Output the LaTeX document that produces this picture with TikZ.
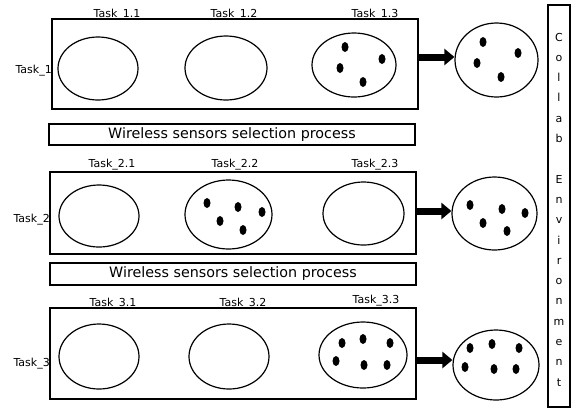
\documentclass[tikz,border=0pt]{standalone}
\usepackage{fontspec}
\setmainfont{DejaVu Sans}
\usetikzlibrary{shapes.geometric,arrows.meta}
\tikzset{
  taskbox/.style={draw,line width=1.6pt,rectangle,inner sep=0pt},
  selbox/.style={draw,line width=1.5pt,rectangle,inner sep=0pt,font=\fontsize{14.3}{16}\selectfont},
  oval/.style={draw,line width=1.2pt,ellipse,inner sep=0pt},
  lbl/.style={anchor=base,inner sep=0pt,font=\fontsize{11}{13}\selectfont},
  rowlbl/.style={anchor=base east,inner sep=0pt,font=\fontsize{11}{13}\selectfont},
  collabbox/.style={draw,line width=1.3pt,rectangle,inner sep=0pt},
  letter/.style={anchor=base,inner sep=0pt,font=\fontsize{11}{13}\selectfont},
  bigarrow/.style={line width=7pt,-{Triangle[length=10pt,width=16pt]}},
  dot/.style={fill=black}
}
\begin{document}
\begin{tikzpicture}[x=1pt,y=-1pt]
\useasboundingbox (0,0) rectangle (577,408);
% ---------- row 1 ----------
\node[taskbox,minimum width=366pt,minimum height=90pt] (box1) at (235,64) {};
\node[oval,minimum width=80pt,minimum height=63pt] (e11) at (98,68.5) {};
\node[oval,minimum width=82pt,minimum height=64pt] (e12) at (226,68) {};
\node[oval,minimum width=84pt,minimum height=64pt] (e13) at (354,65) {};
\node[oval,minimum width=83pt,minimum height=74pt] (out1) at (496.5,60) {};
\node[lbl] (t11) at (117,17.5) {Task\_1.1};
\node[lbl] (t12) at (234,17.5) {Task\_1.2};
\node[lbl] (t13) at (375,17.5) {Task\_1.3};
\node[rowlbl] (t1) at (52,73.5) {Task\_1};
\foreach \p in {(345,47),(382,59),(340,68),(363,82),(483,42),(518,53),(477,63),(501,77)}
  \fill[dot] \p ellipse (3.5 and 5);
\coordinate (a1) at (0,57);
\draw[bigarrow] (box1.east |- a1) -- (out1.west |- a1);
\node[selbox,minimum width=366pt,minimum height=21pt] (sel1) at (232,134.5) {Wireless sensors selection process};
% ---------- row 2 ----------
\node[taskbox,minimum width=366pt,minimum height=82pt] (box2) at (233,213) {};
\node[oval,minimum width=80pt,minimum height=62pt] (e21) at (99,216) {};
\node[oval,minimum width=87pt,minimum height=69pt] (e22) at (228.5,214.5) {};
\node[oval,minimum width=81pt,minimum height=63pt] (e23) at (363.5,213.5) {};
\node[oval,minimum width=85pt,minimum height=73pt] (out2) at (494.5,213.5) {};
\node[lbl] (t21) at (112,167) {Task\_2.1};
\node[lbl] (t22) at (235,167) {Task\_2.2};
\node[lbl] (t23) at (375,167) {Task\_2.3};
\node[rowlbl] (t2) at (50,222) {Task\_2};
\foreach \p in {(207,203),(238,207),(262,212),(220,221),(243,230),(470,205),(502,209),(525,213),(483,223),(507,231)}
  \fill[dot] \p ellipse (3.5 and 5);
\coordinate (a2) at (0,211);
\draw[bigarrow] (box2.east |- a2) -- (out2.west |- a2);
\node[selbox,minimum width=366pt,minimum height=22pt] (sel2) at (233,274) {Wireless sensors selection process};
% ---------- row 3 ----------
\node[taskbox,minimum width=366pt,minimum height=91pt] (box3) at (233,353.5) {};
\node[oval,minimum width=80pt,minimum height=65pt] (e31) at (99,356.5) {};
\node[oval,minimum width=80pt,minimum height=65pt] (e32) at (229,356.5) {};
\node[oval,minimum width=88pt,minimum height=66pt] (e33) at (363,355) {};
\node[oval,minimum width=86pt,minimum height=70pt] (out3) at (496,365) {};
\node[lbl] (t31) at (113,306) {Task\_3.1};
\node[lbl] (t32) at (243,306) {Task\_3.2};
\node[lbl] (t33) at (376,303) {Task\_3.3};
\node[rowlbl] (t3) at (50,366) {Task\_3};
\foreach \p in {(342,343),(363,339),(390,343),(336,361),(364,365),(387,365),(470,348),(492,344),(519,348),(465,367),(494,369),(516,369)}
  \fill[dot] \p ellipse (3.5 and 5);
\coordinate (a3) at (0,360);
\draw[bigarrow] (box3.east |- a3) -- (out3.west |- a3);
% ---------- collab environment ----------
\node[collabbox,minimum width=22pt,minimum height=402pt] (collab) at (559,206) {};
\foreach \ch [count=\k from 0] in {C,o,l,l,a,b,{},E,n,v,i,r,o,n,m,e,n,t}
  \node[letter] (c\k) at (559,{41+20.3*\k}) {\ch};
\end{tikzpicture}
\end{document}
